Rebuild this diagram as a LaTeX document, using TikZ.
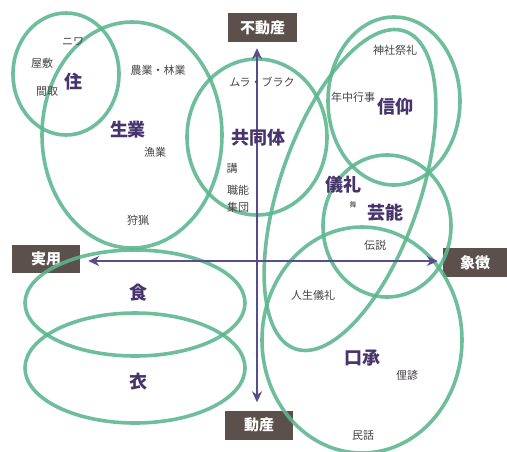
\documentclass[tikz,border=0pt]{standalone}
\usepackage{fontspec}
\setmainfont{Noto Sans CJK JP}
\usetikzlibrary{arrows.meta}
\definecolor{ringcol}{RGB}{92,182,142}
\definecolor{axiscol}{RGB}{88,76,140}
\definecolor{boxcol}{RGB}{92,80,76}
\definecolor{bigtxt}{RGB}{72,52,108}
\definecolor{smalltxt}{RGB}{70,66,70}
\begin{document}
\begin{tikzpicture}[x=1pt,y=-1pt,
  ring/.style={draw=ringcol, line width=3.6pt, opacity=0.88},
  axisline/.style={draw=axiscol, line width=1.8pt, {Stealth[length=11pt,width=10pt]}-{Stealth[length=11pt,width=10pt]}},
  tag/.style={fill=boxcol, text=white, font=\fontsize{15}{15}\selectfont\bfseries, inner sep=0pt, minimum height=29pt},
  big/.style={text=bigtxt, font=\fontsize{18}{18}\selectfont\bfseries, inner sep=0pt},
  small/.style={text=smalltxt, font=\fontsize{11}{11}\selectfont, inner sep=0pt},
  tiny/.style={text=smalltxt, font=\fontsize{7}{7}\selectfont, inner sep=0pt},
]
\fill[white] (0,0) rectangle (507,451);
\useasboundingbox (0,0) rectangle (507,451);

% axis label boxes
\node[tag, minimum width=69pt] (fudo) at (262.5,27.5) {不動産};
\node[tag, minimum width=68pt] (do) at (259,425) {動産};
\node[tag, minimum width=68pt, minimum height=28pt] (jitsu) at (46,259) {実用};
\node[tag, minimum width=64pt] (shocho) at (475,262.5) {象徴};
\coordinate (o) at (257,261);

% rings
\draw[ring] (66,74) ellipse (53 and 61);      % 住
\draw[ring] (132,135) ellipse (90 and 113);   % 生業
\draw[ring] (257,137) ellipse (70 and 78);    % 共同体
\draw[ring] (394,101) ellipse (66 and 84);    % 信仰
\draw[ring, rotate around={71:(350,190)}] (350,190) ellipse (168 and 70); % 儀礼
\draw[ring] (387,226) ellipse (64 and 71);    % 芸能
\draw[ring] (362,340) ellipse (100 and 113);  % 口承
\draw[ring] (135,303) ellipse (110 and 53);   % 食
\draw[ring] (135,368) ellipse (110 and 55);   % 衣

% axes
\draw[axisline, shorten <=6pt, shorten >=8pt] (fudo.south -| o) -- (do.north -| o);
\draw[axisline, shorten <=8pt, shorten >=5pt] (jitsu.east |- o) -- (shocho.west |- o);

% labels
\node[small] (niwa) at (73,42) {ニワ};
\node[small] (yashiki) at (42,63) {屋敷};
\node[big] (ju) at (73,82) {住};
\node[small] (madori) at (47,92) {間取};
\node[small] (nogyo) at (158,70) {農業・林業};
\node[big] (seigyo) at (128,130) {生業};
\node[small] (gyogyo) at (155,152) {漁業};
\node[small] (shuryo) at (138,220) {狩猟};
\node[small] (mura) at (262,82) {ムラ・ブラク};
\node[big] (kyodo) at (258,138) {共同体};
\node[small] (ko) at (232,168) {講};
\node[small] (shokuno) at (238,190) {職能};
\node[small] (shudan) at (238,207) {集団};
\node[small] (jinja) at (395,50) {神社祭礼};
\node[small] (nenju) at (353,97) {年中行事};
\node[big] (shinko) at (395,107) {信仰};
\node[big] (girei) at (343,185) {儀礼};
\node[tiny] (mai) at (353,205) {舞};
\node[big] (geino) at (385,213) {芸能};
\node[small] (densetsu) at (375,245) {伝説};
\node[small] (jinsei) at (313,295) {人生儀礼};
\node[big] (kosho) at (362,358) {口承};
\node[small] (rigen) at (407,375) {俚諺};
\node[small] (minwa) at (363,435) {民話};
\node[big] (shoku) at (138,293) {食};
\node[big] (i) at (138,382) {衣};
\end{tikzpicture}
\end{document}
